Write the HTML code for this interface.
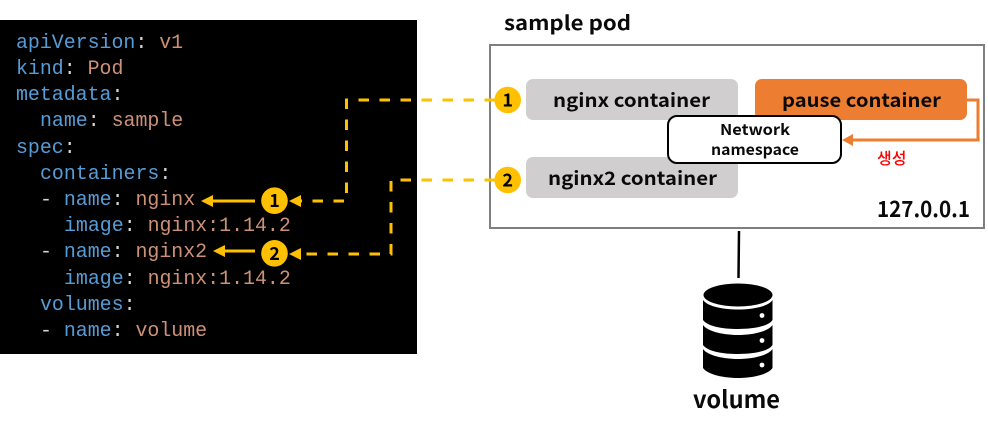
<!DOCTYPE html>
<html><head><meta charset="utf-8"><style>
html,body{margin:0;padding:0;background:#fff}
svg{display:block}
.c{font-family:"Liberation Mono",monospace;font-size:19.9px}
.k{fill:#569cd6}.v{fill:#ce9178}.w{fill:#d4d4d4}
.b{font-family:"Noto Sans CJK KR","Liberation Sans",sans-serif;font-weight:700;fill:#0a0a0a}
</style></head><body>
<svg width="988" height="428" viewBox="0 0 988 428" xmlns="http://www.w3.org/2000/svg">
<rect width="988" height="428" fill="#fff"/>
<rect x="0" y="20" width="417" height="334" fill="#000"/>
<g class="c" xml:space="preserve">
<text x="16" y="48"><tspan class="k">apiVersion</tspan><tspan class="w">: </tspan><tspan class="v">v1</tspan></text>
<text x="16" y="74"><tspan class="k">kind</tspan><tspan class="w">: </tspan><tspan class="v">Pod</tspan></text>
<text x="16" y="100"><tspan class="k">metadata</tspan><tspan class="w">:</tspan></text>
<text x="40" y="126"><tspan class="k">name</tspan><tspan class="w">: </tspan><tspan class="v">sample</tspan></text>
<text x="16" y="153"><tspan class="k">spec</tspan><tspan class="w">:</tspan></text>
<text x="40" y="179"><tspan class="k">containers</tspan><tspan class="w">:</tspan></text>
<text x="40" y="205"><tspan class="w">- </tspan><tspan class="k">name</tspan><tspan class="w">: </tspan><tspan class="v">nginx</tspan></text>
<text x="64" y="231"><tspan class="k">image</tspan><tspan class="w">: </tspan><tspan class="v">nginx:1.14.2</tspan></text>
<text x="40" y="257"><tspan class="w">- </tspan><tspan class="k">name</tspan><tspan class="w">: </tspan><tspan class="v">nginx2</tspan></text>
<text x="64" y="284"><tspan class="k">image</tspan><tspan class="w">: </tspan><tspan class="v">nginx:1.14.2</tspan></text>
<text x="40" y="310"><tspan class="k">volumes</tspan><tspan class="w">:</tspan></text>
<text x="40" y="336"><tspan class="w">- </tspan><tspan class="k">name</tspan><tspan class="w">: </tspan><tspan class="v">volume</tspan></text>
</g>
<text x="504" y="30" class="b" font-size="20" textLength="127" lengthAdjust="spacingAndGlyphs">sample pod</text>
<rect x="490" y="45" width="494" height="183" fill="#fff" stroke="#7f7f7f" stroke-width="2"/>
<rect x="526" y="79" width="212" height="41" rx="7" fill="#d0cece"/>
<rect x="755" y="79" width="212" height="41" rx="7" fill="#ed7d31"/>
<rect x="526" y="157" width="212" height="41" rx="7" fill="#d0cece"/>
<text x="553" y="107" class="b" font-size="19" textLength="157" lengthAdjust="spacingAndGlyphs">nginx container</text>
<text x="782" y="107" class="b" font-size="19" textLength="159" lengthAdjust="spacingAndGlyphs">pause container</text>
<text x="548" y="185" class="b" font-size="19" textLength="169" lengthAdjust="spacingAndGlyphs">nginx2 container</text>
<rect x="668" y="116" width="173" height="47" rx="9" fill="#fff" stroke="#000" stroke-width="2"/>
<text x="720" y="135" class="b" font-size="15" textLength="70" lengthAdjust="spacingAndGlyphs">Network</text>
<text x="711" y="155" class="b" font-size="15" textLength="88" lengthAdjust="spacingAndGlyphs">namespace</text>
<text x="877" y="164" font-family="'Noto Sans CJK KR',sans-serif" font-size="16" font-weight="500" fill="#ff0000">생성</text>
<text x="877" y="217" class="b" font-size="22" textLength="93" lengthAdjust="spacingAndGlyphs">127.0.0.1</text>
<path d="M967 100H978V140H852" fill="none" stroke="#ed7d31" stroke-width="3"/>
<path d="M842 140L853 134V146Z" fill="#ed7d31"/>
<g fill="none" stroke="#ffc000" stroke-width="3" stroke-dasharray="10.5 10.5">
<path d="M495 100H346.5V201H301"/>
<path d="M495 180H391V254H301"/>
</g>
<path d="M289 201L301 195V207Z M289 254L301 248V260Z" fill="#ffc000"/>
<path d="M255 201H213M255 251H225" stroke="#ffc000" stroke-width="3" fill="none"/>
<path d="M201 201L213 195V207Z M213 251L225 245V257Z" fill="#ffc000"/>
<g fill="#ffc000">
<circle cx="274.500" cy="200.700" r="13.300"/>
<circle cx="274.500" cy="253.300" r="13.300"/>
<circle cx="507.700" cy="100" r="13.300"/>
<circle cx="507.700" cy="180" r="13.300"/>
</g>
<g class="b" font-size="18" text-anchor="middle" style="fill:#000">
<text x="274.500" y="207">1</text>
<text x="274.500" y="260">2</text>
<text x="507.700" y="106.500">1</text>
<text x="507.700" y="186.500">2</text>
</g>
<path d="M739 231L738.500 278" stroke="#000" stroke-width="2.500"/>
<ellipse cx="738" cy="295" rx="34.500" ry="11.500" fill="#000"/>
<path d="M703 300C708 307 725 309.500 738 309.500C751 309.500 768 307 772.500 300V320C768 327 751 329 738 329C725 329 708 327 703 320Z" fill="#000"/>
<path d="M703 325C708 332 725 335 738 335C751 335 768 332 772.500 325V345C768 352 751 354 738 354C725 354 708 352 703 345Z" fill="#000"/>
<path d="M703 349C708 356 725 359 738 359C751 359 768 356 772.500 349V368C768 375 751 378 738 378C725 378 708 375 703 368Z" fill="#000"/>
<circle cx="762" cy="315.500" r="2.400" fill="#fff"/>
<circle cx="762" cy="340.500" r="2.400" fill="#fff"/>
<circle cx="762" cy="365" r="2.400" fill="#fff"/>
<text x="693" y="408" class="b" font-size="24" textLength="87" lengthAdjust="spacingAndGlyphs">volume</text>
</svg>
</body></html>
